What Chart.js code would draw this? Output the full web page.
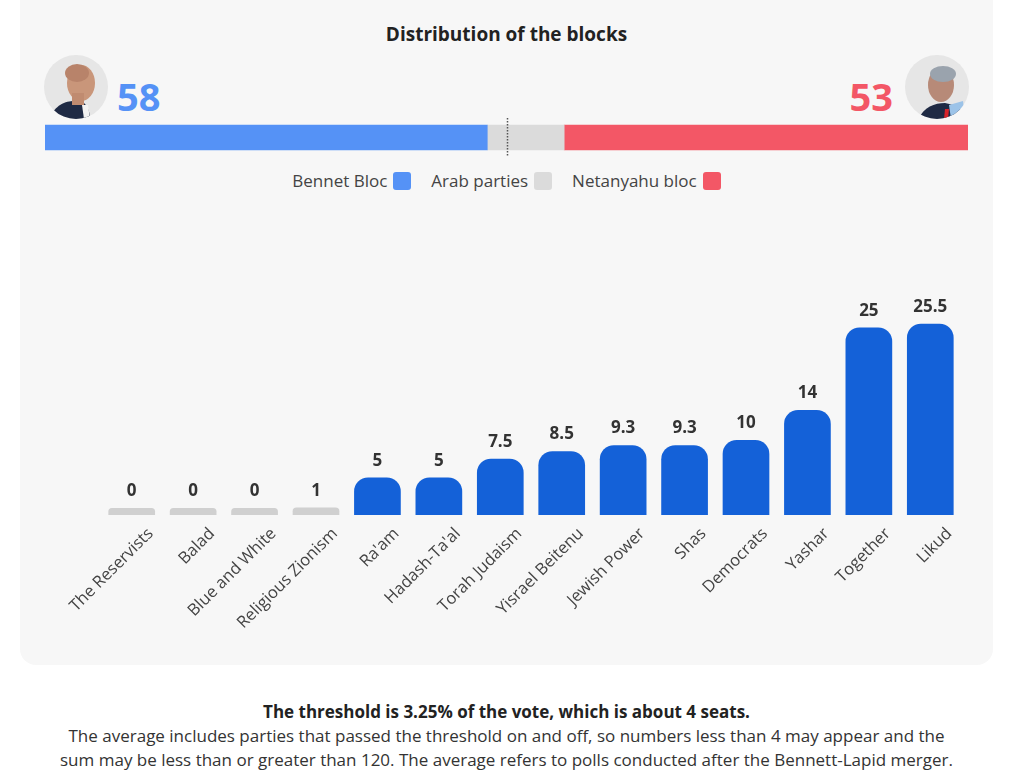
<!DOCTYPE html>
<html>
<head>
<meta charset="utf-8">
<script src="https://cdn.jsdelivr.net/npm/chart.js@4"></script>
<style>
  body { margin: 0; width: 1024px; height: 774px; background: #fff; position: relative; overflow: hidden; font-family: "Open Sans", sans-serif; }
  .card { position: absolute; left: 20px; top: -20px; width: 973px; height: 685px; background: #f7f7f7; border-radius: 16px; }
  .title { position: absolute; left: 20px; width: 973px; top: 21px; text-align: center; font-weight: 700; font-size: 19px; line-height: 26px; color: #222; }
  .big { position: absolute; top: 77px; font-weight: 700; font-size: 38px; line-height: 1; }
  .face { position: absolute; top: 55px; width: 64px; height: 64px; border-radius: 50%; overflow: hidden; background: #e6e6e6; }
  .legend { position: absolute; left: 20px; width: 973px; top: 169px; display: flex; justify-content: center; gap: 20px; font-size: 17px; line-height: 24px; color: #444; }
  .legend span { display: flex; align-items: center; gap: 6px; }
  .legend i { display: inline-block; width: 18px; height: 18px; border-radius: 3px; }
  .note { position: absolute; left: 20px; width: 973px; top: 700px; text-align: center; font-size: 17px; line-height: 24px; color: #333; }
  .note b { color: #222; }
  canvas { position: absolute; }
</style>
</head>
<body>
<div class="card"></div>
<div class="title">Distribution of the blocks</div>

<div class="face" style="left:44px">
  <svg width="64" height="64" viewBox="0 0 64 64">
    <path d="M6 64 C10 50 22 46 30 46 L40 48 C44 52 46 58 46 64 Z" fill="#1f2a44"/>
    <path d="M38 50 L44 50 L46 64 L40 64 Z" fill="#f2f2f2"/>
    <ellipse cx="37" cy="28" rx="14" ry="18" fill="#c9967a"/>
    <ellipse cx="33" cy="18" rx="12" ry="9" fill="#b8836a"/>
    <rect x="28" y="38" width="12" height="12" fill="#c08b70"/>
  </svg>
</div>
<div class="big" id="num-left" style="left:117px;color:#5592f6"></div>
<div class="big" id="num-right" style="right:131px;color:#f35766"></div>
<div class="face" style="left:905px">
  <svg width="64" height="64" viewBox="0 0 64 64">
    <path d="M14 64 C18 52 30 48 40 48 C52 50 60 56 62 64 Z" fill="#1f2a44"/>
    <path d="M44 50 L58 46 L60 64 L46 64 Z" fill="#9cc3e8"/>
    <path d="M40 54 L44 54 L43 64 L39 64 Z" fill="#d8232a"/>
    <ellipse cx="36" cy="30" rx="13" ry="17" fill="#b78a78"/>
    <ellipse cx="38" cy="19" rx="13" ry="8" fill="#9aa3ad"/>
  </svg>
</div>

<canvas id="bloc-chart" width="923" height="45" style="left:45px;top:115px;width:923px;height:45px"></canvas>

<div class="legend">
  <span>Bennet Bloc <i style="background:#5592f6"></i></span>
  <span>Arab parties <i style="background:#dbdbdb"></i></span>
  <span>Netanyahu bloc <i style="background:#f35766"></i></span>
</div>

<canvas id="party-chart" width="973" height="390" style="left:20px;top:270px;width:973px;height:390px"></canvas>

<div class="note">
  <b>The threshold is 3.25% of the vote, which is about 4 seats.</b><br>
  The average includes parties that passed the threshold on and off, so numbers less than 4 may appear and the<br>
  sum may be less than or greater than 120. The average refers to polls conducted after the Bennett-Lapid merger.
</div>

<script>
  // Seats per party (poll average)
  const parties = ['The Reservists', 'Balad', 'Blue and White', 'Religious Zionism', "Ra'am", "Hadash-Ta'al",
    'Torah Judaism', 'Yisrael Beitenu', 'Jewish Power', 'Shas', 'Democrats', 'Yashar', 'Together', 'Likud'];
  const seats = [0, 0, 0, 1, 5, 5, 7.5, 8.5, 9.3, 9.3, 10, 14, 25, 25.5];

  // Blocs
  const blocNames = ['Bennet Bloc', 'Arab parties', 'Netanyahu bloc'];
  const blocSeats = [57.5, 10, 52.6];
  const blocColors = ['#5592f6', '#dbdbdb', '#f35766'];
  const totalSeats = 120;
  const majority = 60;
  const threshold = 4;

  document.getElementById('num-left').textContent = Math.round(blocSeats[0]);
  document.getElementById('num-right').textContent = Math.round(blocSeats[2]);

  // Top stacked bar with the majority mark
  const majorityLine = {
    id: 'majorityLine',
    afterDatasetsDraw(chart) {
      const ctx = chart.ctx;
      const x = Math.round(chart.scales.x.getPixelForValue(majority)) + 0.5;
      ctx.save();
      ctx.strokeStyle = '#555';
      ctx.lineWidth = 1.5;
      ctx.setLineDash([1.5, 1.5]);
      ctx.beginPath();
      ctx.moveTo(x, 3);
      ctx.lineTo(x, 42);
      ctx.stroke();
      ctx.restore();
    }
  };

  new Chart(document.getElementById('bloc-chart'), {
    type: 'bar',
    data: {
      labels: ['blocs'],
      datasets: blocNames.map((name, i) => ({
        label: name, data: [blocSeats[i]], backgroundColor: blocColors[i], barThickness: 25, borderWidth: 0,
      })),
    },
    options: {
      indexAxis: 'y',
      responsive: false,
      animation: false,
      layout: { padding: 0 },
      plugins: { legend: { display: false }, tooltip: { enabled: false } },
      scales: {
        x: { stacked: true, min: 0, max: totalSeats, display: false },
        y: { stacked: true, display: false },
      },
    },
    plugins: [majorityLine],
  });

  // Value labels above party bars
  const valueLabels = {
    id: 'valueLabels',
    afterDatasetsDraw(chart) {
      const ctx = chart.ctx;
      const meta = chart.getDatasetMeta(0);
      ctx.save();
      ctx.font = '700 17px "Open Sans"';
      ctx.fillStyle = '#333';
      ctx.textAlign = 'center';
      ctx.textBaseline = 'alphabetic';
      meta.data.forEach((bar, i) => {
        const { x, y } = bar.getProps(['x', 'y'], true);
        ctx.fillText(String(seats[i]), x, y - 12);
      });
      ctx.restore();
    }
  };

  new Chart(document.getElementById('party-chart'), {
    type: 'bar',
    data: {
      labels: parties,
      datasets: [{
        data: seats,
        backgroundColor: seats.map(v => v < threshold ? '#d0d0d0' : '#1461d8'),
        borderRadius: 14,
        borderWidth: 0,
        minBarLength: 7,
        barPercentage: 0.76,
        categoryPercentage: 1,
      }],
    },
    options: {
      responsive: false,
      animation: false,
      layout: { padding: { left: 81, right: 32, top: 5, bottom: 0 } },
      plugins: { legend: { display: false }, tooltip: { enabled: false } },
      scales: {
        x: {
          grid: { display: false, drawTicks: false },
          border: { display: false },
          ticks: {
            autoSkip: false, maxRotation: 45, minRotation: 45, padding: 9, labelOffset: 19,
            color: '#444', font: { family: 'Open Sans', size: 16.5 },
          },
          afterFit: s => { s.height = 145; },
        },
        y: { display: false, min: 0, max: 32 },
      },
    },
    plugins: [valueLabels],
  });
</script>
</body>
</html>
